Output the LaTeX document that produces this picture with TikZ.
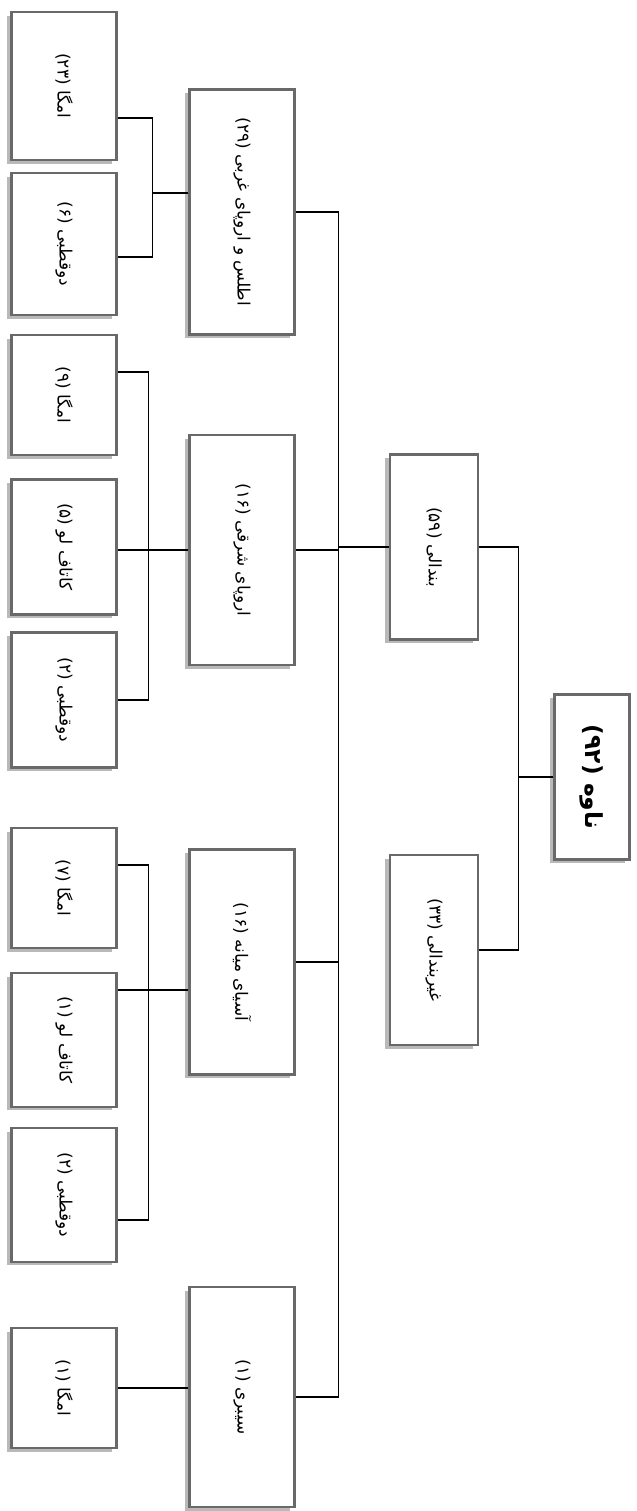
\documentclass[tikz,border=0pt]{standalone}
\usepackage{graphicx}
\usepackage{fontspec}
\newfontfamily\farsi[Script=Arabic]{DejaVu Sans}
\TeXXeTstate=1
\usetikzlibrary{calc, shadows}
\definecolor{BoxGray}{RGB}{105,105,105}
\definecolor{ShadowGray}{RGB}{185,185,185}
\newcommand{\pers}[1]{\rotatebox{-90}{\farsi\beginR #1\endR}}

\begin{document}
\begin{tikzpicture}[x=0.03cm, y=-0.03cm,
	box/.style={draw=BoxGray, line width=1.8pt, fill=white, inner sep=0pt, minimum width=3.15cm, font=\fontsize{14.5}{17}\selectfont, drop shadow={shadow xshift=-4pt, shadow yshift=-3pt, fill=ShadowGray, opacity=1}},
	link/.style={draw=black, line width=0.9pt}]
	\useasboundingbox (0,0) rectangle (636,1511);
	% root and first split
	\node[box, minimum width=2.25cm, minimum height=4.95cm, font=\fontsize{20}{22}\selectfont] (root) at (592,777) {\pers{\bfseries ناوه (۹۲)}};
	\node[box, minimum width=2.64cm, minimum height=5.55cm] (bnd) at (434,547) {\pers{بندالی (۵۹)}};
	\node[box, minimum width=2.64cm, minimum height=5.7cm] (gbnd) at (434,950) {\pers{غیربندالی (۳۳)}};
	% regions
	\node[box, minimum height=7.35cm] (atl) at (242,212) {\pers{اطلس و اروپای غربی (۲۹)}};
	\node[box, minimum height=6.9cm] (eeu) at (242,550) {\pers{اروپای شرقی (۱۶)}};
	\node[box, minimum height=6.75cm] (asi) at (242,962) {\pers{آسیای میانه (۱۶)}};
	\node[box, minimum height=6.6cm] (sib) at (242,1397) {\pers{سیبری (۱)}};
	% patterns
	\node[box, minimum height=4.44cm] (om23) at (64,86) {\pers{امگا (۲۳)}};
	\node[box, minimum height=4.26cm] (dq6) at (64,244) {\pers{دوقطبی (۶)}};
	\node[box, minimum height=3.6cm] (om9) at (64,395) {\pers{امگا (۹)}};
	\node[box, minimum height=4.05cm] (kl5) at (64,547) {\pers{کاتاف لو (۵)}};
	\node[box, minimum height=4.05cm] (dq2a) at (64,700) {\pers{دوقطبی (۲)}};
	\node[box, minimum height=3.6cm] (om7) at (64,888) {\pers{امگا (۷)}};
	\node[box, minimum height=4cm] (kl1) at (64,1040) {\pers{کاتاف لو (۱)}};
	\node[box, minimum height=4cm] (dq2b) at (64,1195) {\pers{دوقطبی (۲)}};
	\node[box, minimum height=3.6cm] (om1) at (64,1388) {\pers{امگا (۱)}};
	% connectors
	\draw[link] (root.west) -- ++(-35,0) coordinate (j0) |- (bnd.east);
	\draw[link] (j0) |- (gbnd.east);
	\draw[link] (bnd.west) -- ++(-50,0) coordinate (j1) |- (atl.east);
	\draw[link] (j1) |- (eeu.east);
	\draw[link] (j1) |- (asi.east);
	\draw[link] (j1) |- (sib.east);
	\draw[link] ($(atl.west)+(0,-19)$) -- ++(-36,0) coordinate (j2) |- ($(om23.east)+(0,32)$);
	\draw[link] (j2) |- ($(dq6.east)+(0,13)$);
	\draw[link] (eeu.west) -- (eeu.west -| kl5.east);
	\draw[link] ($(om9.east)+(0,-23)$) -| ($(eeu.west)+(-40,0)$) |- (dq2a.east);
	\draw[link] ($(asi.west)+(0,28)$) coordinate (a1) -- (a1 -| kl1.east);
	\draw[link] ($(om7.east)+(0,-23)$) -| ($(a1)+(-40,0)$) |- ($(dq2b.east)+(0,25)$);
	\draw[link] (om1.east) -- (om1.east -| sib.west);
\end{tikzpicture}
\end{document}
